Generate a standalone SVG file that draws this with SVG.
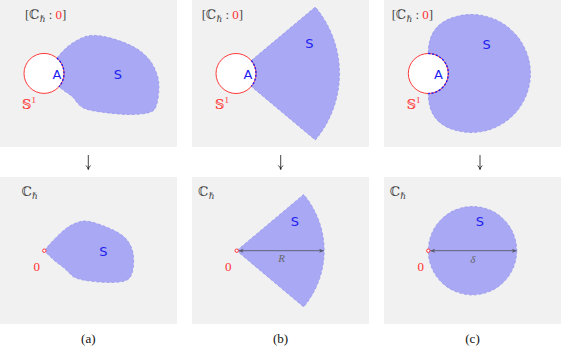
<svg xmlns="http://www.w3.org/2000/svg" width="561" height="351" viewBox="0 0 561 351">
<defs>
<style>
.panel{fill:#f1f1f1}
.reg{fill:#a8a8f4;stroke:none}
.edge{fill:none;stroke:#9393ee;stroke-width:0.8;stroke-dasharray:3 2}
.s1{fill:#ffffff;stroke:#ff3a3a;stroke-width:1}
.arcA{fill:none;stroke:#1a1aff;stroke-width:1.3;stroke-dasharray:2.2 1.6}
.lblS{font-family:"DejaVu Sans","Liberation Sans",sans-serif;font-size:13px;fill:#1e1ef0;text-anchor:middle}
.math{font-family:"Liberation Serif","DejaVu Serif",serif;font-size:13px;fill:#444}
.red{fill:#ff3030}
.zero{font-family:"Liberation Serif","DejaVu Serif",serif;font-size:13px;fill:#ff3030;text-anchor:middle}
.dim{stroke:#5a5a6a;stroke-width:0.9;fill:none;marker-start:url(#ah);marker-end:url(#ah)}
.diml{font-family:"Liberation Serif","DejaVu Serif",serif;font-style:italic;font-size:11px;fill:#666;text-anchor:middle}
.orig{fill:#fff;stroke:#ff3030;stroke-width:1}
.cap{font-family:"Liberation Serif","DejaVu Serif",serif;font-size:13px;fill:#111;text-anchor:middle}
.down{stroke:#111;stroke-width:0.8;fill:none}
</style>
<marker id="ah" viewBox="0 0 10 10" refX="9" refY="5" markerWidth="5" markerHeight="5" orient="auto-start-reverse" markerUnits="userSpaceOnUse">
<path d="M0 1 L10 5 L0 9 L2.5 5 Z" fill="#5a5a6a"/>
</marker>
</defs>

<!-- panels background -->
<g id="backgrounds">
<rect class="panel" x="0" y="0" width="177" height="147"/>
<rect class="panel" x="192" y="0" width="177" height="147"/>
<rect class="panel" x="384" y="0" width="177" height="147"/>
<rect class="panel" x="0" y="177" width="177" height="147"/>
<rect class="panel" x="192" y="177" width="177" height="147"/>
<rect class="panel" x="384" y="177" width="177" height="147"/>
</g>

<!-- Panel a top -->
<g id="a-top">
<path class="reg" d="M 56.9 58 L 61.8 52.35 Q 66.7 46.7 73.35 42.5 Q 80 38.3 85 36.65 Q 90 35 96.65 35.5 Q 103.3 36 113.3 38.85 Q 123.3 41.7 131.65 45.85 Q 140 50 145.85 55.85 Q 151.7 61.7 155 69.2 Q 158.3 76.7 158.8 83.35 Q 159.3 90 158 98.35 Q 156.7 106.7 154.2 109.7 Q 151.7 112.7 142.5 113.85 Q 133.3 115 121.65 114.15 Q 110 113.3 98.35 111.65 Q 86.7 110 82.5 107.5 Q 78.3 105 75.8 100.85 Q 73.3 96.7 69.15 94.2 Q 65 91.7 58.9 86.7 A 20 20 0 0 0 56.9 58 Z"/>
<path class="edge" d="M 56.9 58 L 61.8 52.35 Q 66.7 46.7 73.35 42.5 Q 80 38.3 85 36.65 Q 90 35 96.65 35.5 Q 103.3 36 113.3 38.85 Q 123.3 41.7 131.65 45.85 Q 140 50 145.85 55.85 Q 151.7 61.7 155 69.2 Q 158.3 76.7 158.8 83.35 Q 159.3 90 158 98.35 Q 156.7 106.7 154.2 109.7 Q 151.7 112.7 142.5 113.85 Q 133.3 115 121.65 114.15 Q 110 113.3 98.35 111.65 Q 86.7 110 82.5 107.5 Q 78.3 105 75.8 100.85 Q 73.3 96.7 69.15 94.2 Q 65 91.7 58.9 86.7"/>
<circle class="s1" cx="44" cy="73.4" r="20"/>
<path class="arcA" d="M 56.9 58.1 A 20 20 0 0 1 58.9 86.8"/>
<text class="lblS" x="57" y="78.5">A</text>
<text class="lblS" x="118" y="78.5">S</text>
<text class="math" x="25" y="19.3">[ℂ<tspan font-size="9" dy="2.5">ℏ</tspan><tspan dy="-2.5"> : </tspan><tspan class="red">0</tspan>]</text>
<text class="math red" x="22" y="108.5">𝕊<tspan font-size="9" dy="-5.5">1</tspan></text>
</g>

<!-- Panel b top -->
<g id="b-top">
<path class="reg" d="M 251.3 60.6 L 315.3 7 A 103.5 103.5 0 0 1 315.3 140 L 251.3 86.4 A 20 20 0 0 0 251.3 60.6 Z"/>
<path class="edge" d="M 251.3 60.6 L 315.3 7 A 103.5 103.5 0 0 1 315.3 140 L 251.3 86.4"/>
<circle class="s1" cx="236" cy="73.5" r="20"/>
<path class="arcA" d="M 251.3 60.6 A 20 20 0 0 1 251.3 86.4"/>
<text class="lblS" x="248" y="78.5">A</text>
<text class="lblS" x="309.3" y="48">S</text>
<text class="math" x="201.7" y="19.3">[ℂ<tspan font-size="9" dy="2.5">ℏ</tspan><tspan dy="-2.5"> : </tspan><tspan class="red">0</tspan>]</text>
<text class="math red" x="215" y="108.5">𝕊<tspan font-size="9" dy="-5.5">1</tspan></text>
</g>

<!-- Panel c top -->
<g id="c-top">
<path class="reg" d="M 428.3 53.5 C 428.5 36 435 22.2 456.2 16.5 A 59 59 0 1 1 456.2 130.5 C 435 124.8 428.5 111 428.3 93.5 A 20 20 0 0 0 428.3 53.5 Z"/>
<path class="edge" d="M 428.3 53.5 C 428.5 36 435 22.2 456.2 16.5 A 59 59 0 1 1 456.2 130.5 C 435 124.8 428.5 111 428.3 93.5"/>
<circle class="s1" cx="428.3" cy="73.5" r="20"/>
<path class="arcA" d="M 428.3 53.5 A 20 20 0 0 1 428.3 93.5"/>
<text class="lblS" x="438.5" y="78.7">A</text>
<text class="lblS" x="486.7" y="48.7">S</text>
<text class="math" x="391.7" y="19.3">[ℂ<tspan font-size="9" dy="2.5">ℏ</tspan><tspan dy="-2.5"> : </tspan><tspan class="red">0</tspan>]</text>
<text class="math red" x="406.7" y="108.5">𝕊<tspan font-size="9" dy="-5.5">1</tspan></text>
</g>

<!-- Panel a bottom -->
<g id="a-bottom">
<path class="reg" d="M 44.3 250.7 L 48.8 245.35 Q 53.3 240 60 233.65 Q 66.7 227.3 72.5 224.5 Q 78.3 221.7 83.15 221.1 Q 88 220.5 99 224.25 Q 110 228 117.5 232.35 Q 125 236.7 128.35 241.7 Q 131.7 246.7 132.85 252.5 Q 134 258.3 133.5 265.15 Q 133 272 130.65 276.5 Q 128.3 281 119.15 282 Q 110 283 96.65 281.75 Q 83.3 280.5 78 278.75 Q 72.7 277 70.5 274.35 Q 68.3 271.7 65 268.85 Q 61.7 266 57.5 263 Q 53.3 260 44.3 250.7 Z"/>
<path class="edge" d="M 44.3 250.7 L 48.8 245.35 Q 53.3 240 60 233.65 Q 66.7 227.3 72.5 224.5 Q 78.3 221.7 83.15 221.1 Q 88 220.5 99 224.25 Q 110 228 117.5 232.35 Q 125 236.7 128.35 241.7 Q 131.7 246.7 132.85 252.5 Q 134 258.3 133.5 265.15 Q 133 272 130.65 276.5 Q 128.3 281 119.15 282 Q 110 283 96.65 281.75 Q 83.3 280.5 78 278.75 Q 72.7 277 70.5 274.35 Q 68.3 271.7 65 268.85 Q 61.7 266 57.5 263 Q 53.3 260 44.3 250.7 Z"/>
<circle class="orig" cx="44.3" cy="250.7" r="1.7"/>
<text class="lblS" x="103.3" y="256.4">S</text>
<text class="zero" x="36.7" y="270.5">0</text>
<text class="math" x="21.7" y="196">ℂ<tspan font-size="9" dy="2.5">ℏ</tspan></text>
</g>

<!-- Panel b bottom -->
<g id="b-bottom">
<path class="reg" d="M 236.7 250.7 L 303.7 194.5 A 87.5 87.5 0 0 1 303.7 306.9 Z"/>
<path class="edge" d="M 236.7 250.7 L 303.7 194.5 A 87.5 87.5 0 0 1 303.7 306.9 Z"/>
<line class="dim" x1="239" y1="250.7" x2="323.6" y2="250.7"/>
<circle class="orig" cx="236.7" cy="250.7" r="1.7"/>
<text class="lblS" x="295" y="225.7">S</text>
<text class="diml" x="281.7" y="262">R</text>
<text class="zero" x="228.3" y="270.5">0</text>
<text class="math" x="198.3" y="196">ℂ<tspan font-size="9" dy="2.5">ℏ</tspan></text>
</g>

<!-- Panel c bottom -->
<g id="c-bottom">
<circle class="reg" cx="472.5" cy="250.7" r="44.2"/>
<circle class="edge" cx="472.5" cy="250.7" r="44.2"/>
<line class="dim" x1="430.6" y1="250.7" x2="516.4" y2="250.7"/>
<circle class="orig" cx="428.3" cy="250.7" r="1.7"/>
<text class="lblS" x="480" y="226.4">S</text>
<text class="diml" x="472.7" y="262.5" font-size="10">δ</text>
<text class="zero" x="420.7" y="270.5">0</text>
<text class="math" x="390" y="196">ℂ<tspan font-size="9" dy="2.5">ℏ</tspan></text>
</g>

<!-- connectors -->
<g id="connectors">
<path class="down" d="M 88.3 155 L 88.3 169.3 M 86 165.5 Q 87.8 167 88.3 169.5 Q 88.8 167 90.6 165.5"/>
<path class="down" d="M 280.7 155 L 280.7 169.3 M 278.4 165.5 Q 280.2 167 280.7 169.5 Q 281.2 167 283 165.5"/>
<path class="down" d="M 480 155 L 480 169.3 M 477.7 165.5 Q 479.5 167 480 169.5 Q 480.5 167 482.3 165.5"/>
</g>

<!-- captions -->
<g id="captions">
<text class="cap" x="88.3" y="342.5">(a)</text>
<text class="cap" x="280.5" y="342.5">(b)</text>
<text class="cap" x="472.5" y="342.5">(c)</text>
</g>
</svg>
